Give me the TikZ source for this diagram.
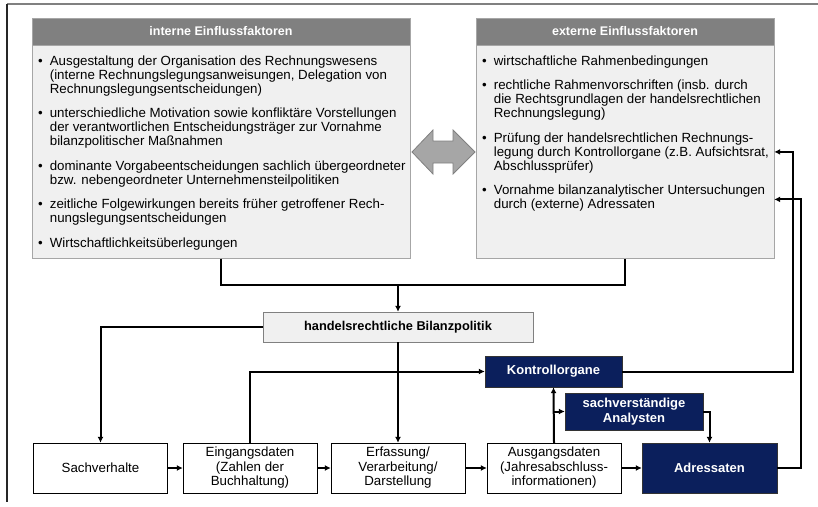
\documentclass[tikz,border=0pt]{standalone}
\usepackage{fontspec}
\setmainfont{Liberation Sans}
\usetikzlibrary{arrows.meta,positioning}
\definecolor{navy}{HTML}{0B1F5C}
\definecolor{panelgray}{HTML}{F0F0F0}
\definecolor{headgray}{HTML}{808080}
\definecolor{rimgray}{HTML}{A6A6A6}
\definecolor{arrowgray}{HTML}{A6A6A6}
\tikzset{
  txt/.style={font=\fontsize{13.3}{14}\selectfont},
  head/.style={fill=headgray, draw=rimgray, text=white, font=\fontsize{12.5}{14}\selectfont\bfseries, inner sep=0pt},
  panel/.style={fill=panelgray, draw=rimgray, inner sep=0pt},
  bullets/.style={txt, anchor=north west, inner sep=0pt},
  flowbox/.style={draw=black, fill=white, align=center, inner sep=0pt,
    font=\fontsize{13.3}{14.5}\selectfont, minimum width=134pt, minimum height=50pt},
  actor/.style={draw=black!80, fill=navy, text=white, align=center, inner sep=0pt,
    font=\fontsize{13}{15.5}\selectfont\bfseries},
  flow/.style={line width=2pt, -{Latex[length=6pt,width=6pt]}},
  link/.style={line width=2pt}
}
\begin{document}
\begin{tikzpicture}[x=1pt,y=-1pt]
  \useasboundingbox (0,0) rectangle (818,506);
  \draw[headgray, line width=1.5pt] (7,4) -- (818,4);
  \draw[black!85, line width=1.2pt] (7,4) -- (7,502);

  \node[head, minimum width=378pt, minimum height=27pt] (intH) at (221,31.5) {interne Einflussfaktoren};
  \node[panel, minimum width=378pt, minimum height=213pt, below=0pt of intH] (intB) {};
  \node[bullets] (intL) at (38,55) {\begin{tabular}{@{}l@{\hspace{7pt}}l@{}}
    \textbullet & Ausgestaltung der Organisation des Rechnungswesens\\
     & (interne Rechnungslegungsanweisungen, Delegation von\\
     & Rechnungslegungsentscheidungen)\\[10.5pt]
    \textbullet & unterschiedliche Motivation sowie konfliktäre Vorstellungen\\
     & der verantwortlichen Entscheidungsträger zur Vornahme\\
     & bilanzpolitischer Maßnahmen\\[10.5pt]
    \textbullet & dominante Vorgabeentscheidungen sachlich übergeordneter\\
     & bzw. nebengeordneter Unternehmensteilpolitiken\\[10.5pt]
    \textbullet & zeitliche Folgewirkungen bereits früher getroffener Rech-\\
     & nungslegungsentscheidungen\\[10.5pt]
    \textbullet & Wirtschaftlichkeitsüberlegungen
  \end{tabular}};

  \node[head, minimum width=298pt, minimum height=27pt] (extH) at (625,31.5) {externe Einflussfaktoren};
  \node[panel, minimum width=298pt, minimum height=213pt, below=0pt of extH] (extB) {};
  \node[bullets] (extL) at (482,55) {\begin{tabular}{@{}l@{\hspace{7pt}}l@{}}
    \textbullet & wirtschaftliche Rahmenbedingungen\\[10.5pt]
    \textbullet & rechtliche Rahmenvorschriften (insb. durch\\
     & die Rechtsgrundlagen der handelsrechtlichen\\
     & Rechnungslegung)\\[10.5pt]
    \textbullet & Prüfung der handelsrechtlichen Rechnungs-\\
     & legung durch Kontrollorgane (z.B. Aufsichtsrat,\\
     & Abschlussprüfer)\\[10.5pt]
    \textbullet & Vornahme bilanzanalytischer Untersuchungen\\
     & durch (externe) Adressaten
  \end{tabular}};

  \draw[fill=arrowgray, draw=headgray, line width=0.8pt] (412,152) -- (433,130) -- (433,141) -- (453,141)
    -- (453,130) -- (475,152) -- (453,174) -- (453,163) -- (433,163) -- (433,174) -- cycle;

  \node[head, fill=panelgray, text=black, draw=headgray, minimum width=270pt, minimum height=30pt,
    font=\fontsize{12.8}{14}\selectfont\bfseries] (pol) at (398,327) {handelsrechtliche Bilanzpolitik};

  \node[flowbox] (sach) at (100.5,468) {Sachverhalte};
  \node[flowbox] (eing) at (250,468) {Eingangsdaten\\(Zahlen der\\Buchhaltung)};
  \node[flowbox] (erf) at (398,468) {Erfassung/\\Verarbeitung/\\Darstellung};
  \node[flowbox] (ausg) at (554,468) {Ausgangsdaten\\(Jahresabschluss-\\informationen)};
  \node[actor, minimum width=135pt, minimum height=50pt] (adr) at (709.5,468) {Adressaten};
  \node[actor, minimum width=137pt, minimum height=31pt] (kon) at (553.5,371.5) {Kontrollorgane};
  \node[actor, minimum width=138pt, minimum height=37pt] (ana) at (634,411.5) {sachverständige\\Analysten};

  \coordinate (join) at (398,285);
  \coordinate (kr) at (793,0);
  \coordinate (ar) at (801,0);
  \coordinate (vorn) at ([yshift=-47.5pt]extB.east);

  \draw[link] (intB.south) |- (join) -| (extB.south);
  \draw[flow] (join) -- (pol.north);
  \draw[flow] (pol.west) -| (sach.north);
  \draw[flow] (pol.south) -- (erf.north);
  \draw[flow] (eing.north) |- (kon.west);
  \draw[flow] (sach) -- (eing);
  \draw[flow] (eing) -- (erf);
  \draw[flow] (erf) -- (ausg);
  \draw[flow] (ausg) -- (adr);
  \draw[flow] (ausg.north) -- (kon.south);
  \draw[flow] (ausg.north |- ana.west) -- (ana.west);
  \draw[flow] (ana.east) -| (adr.north);
  \draw[flow] (kon.east) -| (kr |- extB.east) -- (extB.east);
  \draw[flow] (adr.east) -| (ar |- vorn) -- (vorn);
\end{tikzpicture}
\end{document}
